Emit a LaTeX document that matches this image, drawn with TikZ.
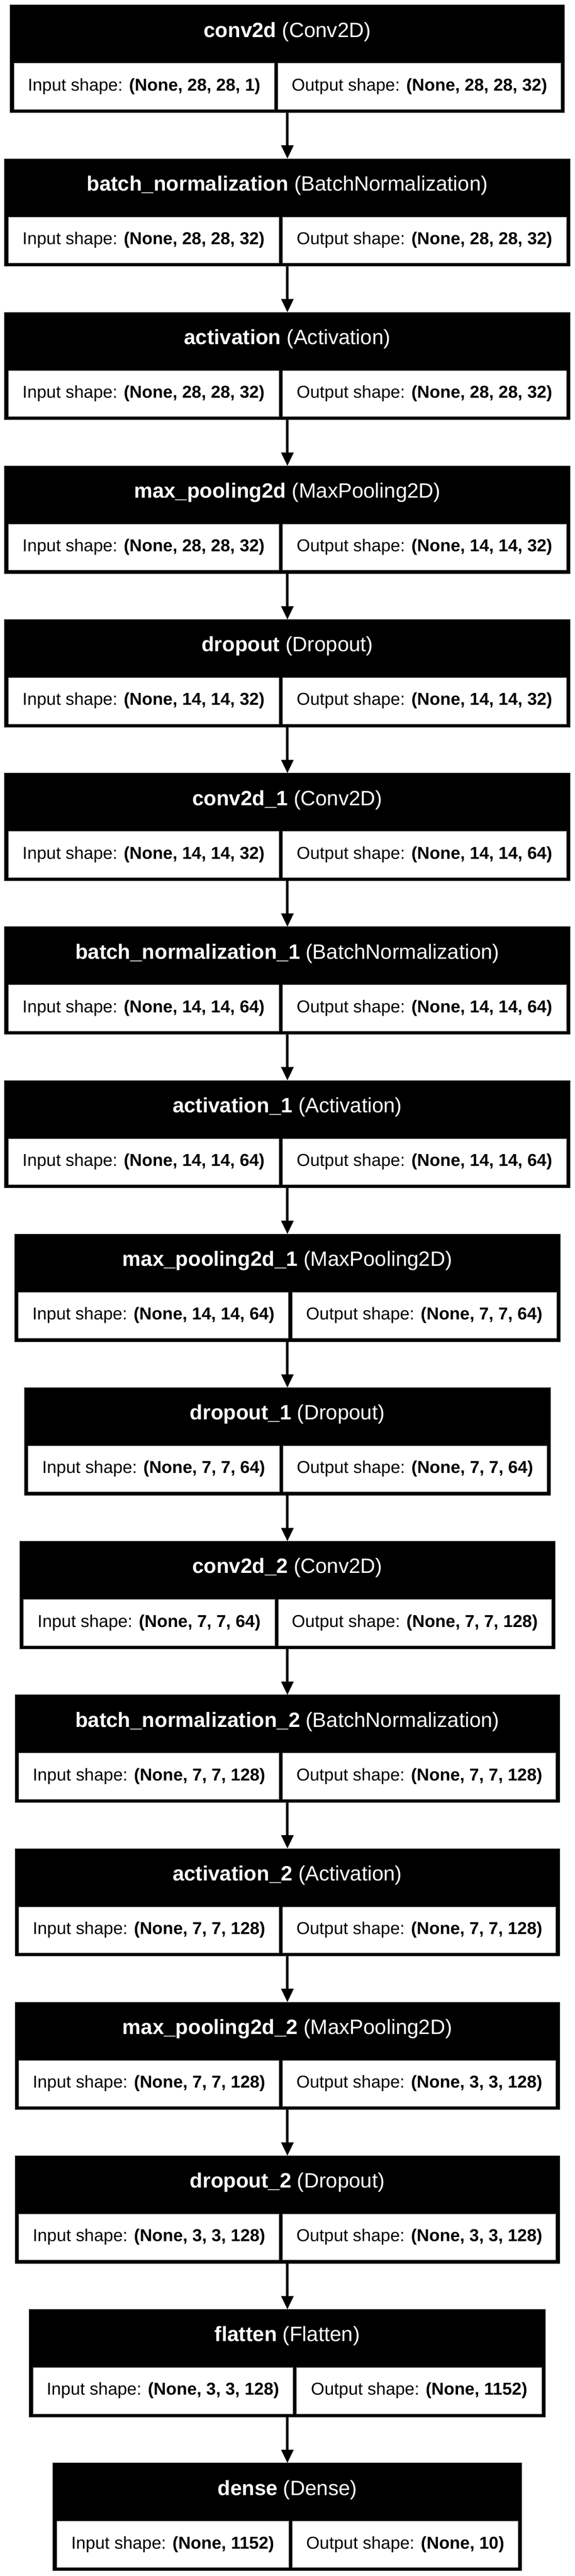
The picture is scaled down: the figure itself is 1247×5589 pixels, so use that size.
\documentclass[tikz,border=0pt]{standalone}
\usepackage{fontspec}
\setmainfont{Liberation Sans}
\usetikzlibrary{positioning,arrows.meta}
\tikzstyle{layer}=[rectangle,fill=black,draw=black!80,line width=1pt,
minimum height=233.3pt,inner sep=0pt,outer sep=0pt]
\tikzstyle{head}=[text=white,inner sep=0pt,font=\fontsize{45}{48}\selectfont]
\tikzstyle{cellbox}=[rectangle,fill=white,draw=black!45,line width=1pt,
minimum height=100pt,inner sep=0pt,outer sep=0pt,font=\fontsize{37.4}{40}\selectfont]
\tikzstyle{flow}=[line width=5.5pt,-{Triangle[width=26pt,length=29pt]}]

\begin{document}
\begin{tikzpicture}[node distance=100pt]
            \useasboundingbox (0,0) rectangle (1247pt,-5589pt);

            % FIRST CONV PART

            \node[layer,minimum width=1202.5pt,anchor=north] (l0) at (623.5pt,-11pt) {};
            \node[head] (h0) at ([yshift=-58pt]l0.north) {\textbf{conv2d} (Conv2D)};
            \node[cellbox,minimum width=564.7pt,above right=7pt and 8pt of l0.south west] (i0) {Input shape: \textbf{(None, 28, 28, 1)}};
            \node[cellbox,minimum width=613.8pt,above left=7pt and 8pt of l0.south east] (o0) {Output shape: \textbf{(None, 28, 28, 32)}};

            \node[layer,minimum width=1227pt,below=of l0] (l1) {};
            \node[head] (h1) at ([yshift=-58pt]l1.north) {\textbf{batch\_normalization} (BatchNormalization)};
            \node[cellbox,minimum width=587pt,above right=7pt and 8pt of l1.south west] (i1) {Input shape: \textbf{(None, 28, 28, 32)}};
            \node[cellbox,minimum width=616pt,above left=7pt and 8pt of l1.south east] (o1) {Output shape: \textbf{(None, 28, 28, 32)}};

            \node[layer,minimum width=1227pt,below=of l1] (l2) {};
            \node[head] (h2) at ([yshift=-58pt]l2.north) {\textbf{activation} (Activation)};
            \node[cellbox,minimum width=587pt,above right=7pt and 8pt of l2.south west] (i2) {Input shape: \textbf{(None, 28, 28, 32)}};
            \node[cellbox,minimum width=616pt,above left=7pt and 8pt of l2.south east] (o2) {Output shape: \textbf{(None, 28, 28, 32)}};

            \node[layer,minimum width=1227pt,below=of l2] (l3) {};
            \node[head] (h3) at ([yshift=-58pt]l3.north) {\textbf{max\_pooling2d} (MaxPooling2D)};
            \node[cellbox,minimum width=587pt,above right=7pt and 8pt of l3.south west] (i3) {Input shape: \textbf{(None, 28, 28, 32)}};
            \node[cellbox,minimum width=616pt,above left=7pt and 8pt of l3.south east] (o3) {Output shape: \textbf{(None, 14, 14, 32)}};

            \node[layer,minimum width=1227pt,below=of l3] (l4) {};
            \node[head] (h4) at ([yshift=-58pt]l4.north) {\textbf{dropout} (Dropout)};
            \node[cellbox,minimum width=587pt,above right=7pt and 8pt of l4.south west] (i4) {Input shape: \textbf{(None, 14, 14, 32)}};
            \node[cellbox,minimum width=616pt,above left=7pt and 8pt of l4.south east] (o4) {Output shape: \textbf{(None, 14, 14, 32)}};

            % SECOND CONV PART

            \node[layer,minimum width=1227pt,below=of l4] (l5) {};
            \node[head] (h5) at ([yshift=-58pt]l5.north) {\textbf{conv2d\_1} (Conv2D)};
            \node[cellbox,minimum width=587pt,above right=7pt and 8pt of l5.south west] (i5) {Input shape: \textbf{(None, 14, 14, 32)}};
            \node[cellbox,minimum width=616pt,above left=7pt and 8pt of l5.south east] (o5) {Output shape: \textbf{(None, 14, 14, 64)}};

            \node[layer,minimum width=1227pt,below=of l5] (l6) {};
            \node[head] (h6) at ([yshift=-58pt]l6.north) {\textbf{batch\_normalization\_1} (BatchNormalization)};
            \node[cellbox,minimum width=587pt,above right=7pt and 8pt of l6.south west] (i6) {Input shape: \textbf{(None, 14, 14, 64)}};
            \node[cellbox,minimum width=616pt,above left=7pt and 8pt of l6.south east] (o6) {Output shape: \textbf{(None, 14, 14, 64)}};

            \node[layer,minimum width=1227pt,below=of l6] (l7) {};
            \node[head] (h7) at ([yshift=-58pt]l7.north) {\textbf{activation\_1} (Activation)};
            \node[cellbox,minimum width=587pt,above right=7pt and 8pt of l7.south west] (i7) {Input shape: \textbf{(None, 14, 14, 64)}};
            \node[cellbox,minimum width=616pt,above left=7pt and 8pt of l7.south east] (o7) {Output shape: \textbf{(None, 14, 14, 64)}};

            \node[layer,minimum width=1183.4pt,below=of l7] (l8) {};
            \node[head] (h8) at ([yshift=-58pt]l8.north) {\textbf{max\_pooling2d\_1} (MaxPooling2D)};
            \node[cellbox,minimum width=586pt,above right=7pt and 8pt of l8.south west] (i8) {Input shape: \textbf{(None, 14, 14, 64)}};
            \node[cellbox,minimum width=573.4pt,above left=7pt and 8pt of l8.south east] (o8) {Output shape: \textbf{(None, 7, 7, 64)}};

            \node[layer,minimum width=1142pt,below=of l8] (l9) {};
            \node[head] (h9) at ([yshift=-58pt]l9.north) {\textbf{dropout\_1} (Dropout)};
            \node[cellbox,minimum width=545.6pt,above right=7pt and 8pt of l9.south west] (i9) {Input shape: \textbf{(None, 7, 7, 64)}};
            \node[cellbox,minimum width=572.4pt,above left=7pt and 8pt of l9.south east] (o9) {Output shape: \textbf{(None, 7, 7, 64)}};

            % THIRD CONV PART

            \node[layer,minimum width=1161pt,below=of l9] (l10) {};
            \node[head] (h10) at ([yshift=-58pt]l10.north) {\textbf{conv2d\_2} (Conv2D)};
            \node[cellbox,minimum width=544.8pt,above right=7pt and 8pt of l10.south west] (i10) {Input shape: \textbf{(None, 7, 7, 64)}};
            \node[cellbox,minimum width=592.2pt,above left=7pt and 8pt of l10.south east] (o10) {Output shape: \textbf{(None, 7, 7, 128)}};

            \node[layer,minimum width=1181pt,below=of l10] (l11) {};
            \node[head] (h11) at ([yshift=-58pt]l11.north) {\textbf{batch\_normalization\_2} (BatchNormalization)};
            \node[cellbox,minimum width=564.6pt,above right=7pt and 8pt of l11.south west] (i11) {Input shape: \textbf{(None, 7, 7, 128)}};
            \node[cellbox,minimum width=592.4pt,above left=7pt and 8pt of l11.south east] (o11) {Output shape: \textbf{(None, 7, 7, 128)}};

            \node[layer,minimum width=1181pt,below=of l11] (l12) {};
            \node[head] (h12) at ([yshift=-58pt]l12.north) {\textbf{activation\_2} (Activation)};
            \node[cellbox,minimum width=564.6pt,above right=7pt and 8pt of l12.south west] (i12) {Input shape: \textbf{(None, 7, 7, 128)}};
            \node[cellbox,minimum width=592.4pt,above left=7pt and 8pt of l12.south east] (o12) {Output shape: \textbf{(None, 7, 7, 128)}};

            \node[layer,minimum width=1181pt,below=of l12] (l13) {};
            \node[head] (h13) at ([yshift=-58pt]l13.north) {\textbf{max\_pooling2d\_2} (MaxPooling2D)};
            \node[cellbox,minimum width=564.6pt,above right=7pt and 8pt of l13.south west] (i13) {Input shape: \textbf{(None, 7, 7, 128)}};
            \node[cellbox,minimum width=592.4pt,above left=7pt and 8pt of l13.south east] (o13) {Output shape: \textbf{(None, 3, 3, 128)}};

            \node[layer,minimum width=1181pt,below=of l13] (l14) {};
            \node[head] (h14) at ([yshift=-58pt]l14.north) {\textbf{dropout\_2} (Dropout)};
            \node[cellbox,minimum width=564.6pt,above right=7pt and 8pt of l14.south west] (i14) {Input shape: \textbf{(None, 3, 3, 128)}};
            \node[cellbox,minimum width=592.4pt,above left=7pt and 8pt of l14.south east] (o14) {Output shape: \textbf{(None, 3, 3, 128)}};

            % DENSE PART

            \node[layer,minimum width=1120pt,below=of l14] (l15) {};
            \node[head] (h15) at ([yshift=-58pt]l15.north) {\textbf{flatten} (Flatten)};
            \node[cellbox,minimum width=563.8pt,above right=7pt and 8pt of l15.south west] (i15) {Input shape: \textbf{(None, 3, 3, 128)}};
            \node[cellbox,minimum width=532.2pt,above left=7pt and 8pt of l15.south east] (o15) {Output shape: \textbf{(None, 1152)}};

            \node[layer,minimum width=1017pt,below=of l15] (l16) {};
            \node[head] (h16) at ([yshift=-58pt]l16.north) {\textbf{dense} (Dense)};
            \node[cellbox,minimum width=503.4pt,above right=7pt and 8pt of l16.south west] (i16) {Input shape: \textbf{(None, 1152)}};
            \node[cellbox,minimum width=489.6pt,above left=7pt and 8pt of l16.south east] (o16) {Output shape: \textbf{(None, 10)}};

            % Connections of Layers

            \path[flow] (l0) edge (l1);
            \path[flow] (l1) edge (l2);
            \path[flow] (l2) edge (l3);
            \path[flow] (l3) edge (l4);
            \path[flow] (l4) edge (l5);
            \path[flow] (l5) edge (l6);
            \path[flow] (l6) edge (l7);
            \path[flow] (l7) edge (l8);
            \path[flow] (l8) edge (l9);
            \path[flow] (l9) edge (l10);
            \path[flow] (l10) edge (l11);
            \path[flow] (l11) edge (l12);
            \path[flow] (l12) edge (l13);
            \path[flow] (l13) edge (l14);
            \path[flow] (l14) edge (l15);
            \path[flow] (l15) edge (l16);

        \end{tikzpicture}
\end{document}
